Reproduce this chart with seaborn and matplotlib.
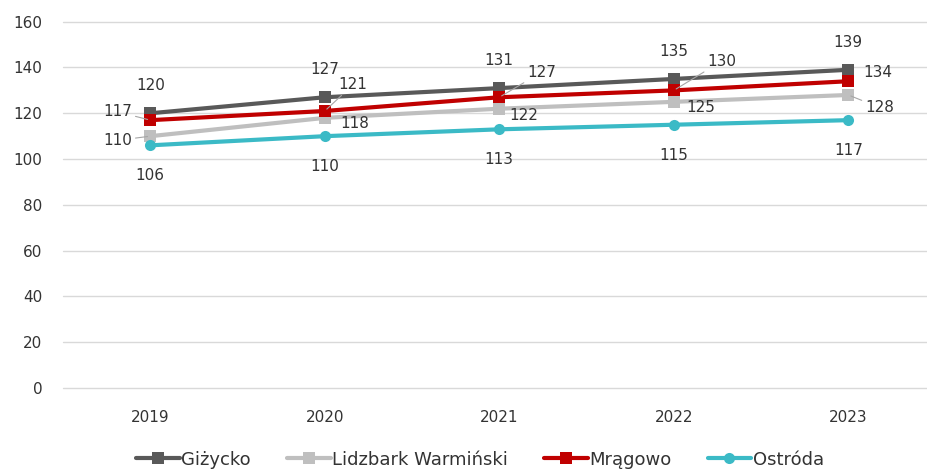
import pandas as pd
import matplotlib.pyplot as plt
import seaborn as sns

# data
years = ['2019', '2020', '2021', '2022', '2023']
gizycko = [120, 127, 131, 135, 139]
lidzbark = [110, 118, 122, 125, 128]
mragowo = [117, 121, 127, 130, 134]
ostroda = [106, 110, 113, 115, 117]

names = ['Giżycko', 'Lidzbark Warmiński', 'Mrągowo', 'Ostróda']
series = [gizycko, lidzbark, mragowo, ostroda]
colors = ['#595959', '#BFBFBF', '#C00000', '#3BBAC6']
markers = ['s', 's', 's', 'o']

rows = []
for n, vals in zip(names, series):
    for i, v in enumerate(vals):
        rows.append({'pos': i, 'value': v, 'miasto': n})
df = pd.DataFrame(rows)

sns.set_style('white')
plt.rcParams['font.family'] = ['DejaVu Sans']

fig = plt.figure(figsize=(9.27, 4.74), dpi=100)
ax = fig.add_axes([0.068, 0.1814, 0.932, 0.7728])

for n, c, m in zip(names, colors, markers):
    sns.lineplot(data=df[df['miasto'] == n], x='pos', y='value', color=c,
                 marker=m, markersize=8, markeredgewidth=0, linewidth=3.0,
                 label=n, ax=ax)

ax.set_xlim(-0.5, 4.451)
ax.set_ylim(0, 160)
ax.set_yticks(range(0, 161, 20))
ax.set_xticks(range(len(years)))
ax.set_xticklabels(years)
ax.set_xlabel('')
ax.set_ylabel('')
ax.yaxis.grid(True, color='#D9D9D9', linewidth=1)
for gl in ax.get_ygridlines():
    gl.set_clip_on(False)
ax.set_axisbelow(True)
for s in ax.spines.values():
    s.set_visible(False)
ax.tick_params(axis='both', length=0, labelsize=11, colors='#333333')
ax.tick_params(axis='y', pad=15)
ax.tick_params(axis='x', pad=16)

lab = dict(fontsize=11, color='#333333')
lead = dict(arrowstyle='-', color='#A6A6A6', lw=0.8, shrinkA=0, shrinkB=2)

# Giżycko - above
for i, v in enumerate(gizycko):
    ax.annotate(str(v), (i, v), xytext=(0, 20), textcoords='offset points',
                ha='center', va='center', **lab)

# Ostróda - below
for i, v in enumerate(ostroda):
    ax.annotate(str(v), (i, v), xytext=(0, -22), textcoords='offset points',
                ha='center', va='center', **lab)

# Mrągowo
ax.annotate('117', (0, mragowo[0]), xytext=(-13, 6), textcoords='offset points',
            ha='right', va='center', arrowprops=lead, **lab)
for i, dx, dy in [(1, 10, 19), (2, 20, 18), (3, 24, 21)]:
    ax.annotate(str(mragowo[i]), (i, mragowo[i]), xytext=(dx, dy),
                textcoords='offset points', ha='left', va='center',
                arrowprops=lead, **lab)
ax.annotate('134', (4, mragowo[4]), xytext=(11, 6), textcoords='offset points',
            ha='left', va='center', **lab)

# Lidzbark Warmiński
ax.annotate('110', (0, lidzbark[0]), xytext=(-13, -3), textcoords='offset points',
            ha='right', va='center', arrowprops=lead, **lab)
for i, dx, dy in [(1, 11, -4), (2, 7, -5), (3, 9, -4)]:
    ax.annotate(str(lidzbark[i]), (i, lidzbark[i]), xytext=(dx, dy),
                textcoords='offset points', ha='left', va='center', **lab)
ax.annotate('128', (4, lidzbark[4]), xytext=(12, -9), textcoords='offset points',
            ha='left', va='center', arrowprops=lead, **lab)

ax.legend(loc='center', bbox_to_anchor=(0.518, 0.03), bbox_transform=fig.transFigure,
          ncol=4, frameon=False, fontsize=13, handlelength=2.4, handletextpad=0.1,
          columnspacing=2.0, labelcolor='#333333', borderpad=0)

fig.savefig('out.png', dpi=100)
